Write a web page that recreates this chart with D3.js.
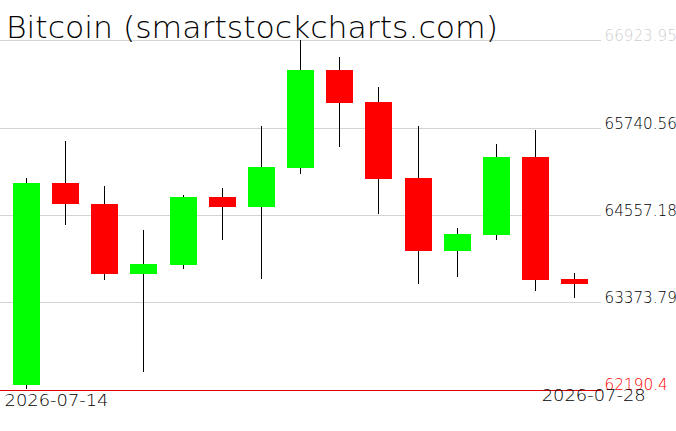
<!DOCTYPE html>
<html>
<head>
<meta charset="utf-8">
<script src="https://cdn.jsdelivr.net/npm/d3@7"></script>
<style>
  html, body { margin: 0; padding: 0; background: #fff; }
  svg { display: block; }
</style>
</head>
<body>
<svg id="chart" width="676" height="431"></svg>
<script>
const title = "Bitcoin (smartstockcharts.com)";
const dates = ["2026-07-14","2026-07-15","2026-07-16","2026-07-17","2026-07-18","2026-07-19","2026-07-20","2026-07-21","2026-07-22","2026-07-23","2026-07-24","2026-07-25","2026-07-26","2026-07-27","2026-07-28"];
const open  = [62258, 64990, 64706, 63759, 63881, 64801, 64665, 65193, 66518, 66085, 65058, 64070, 64287, 65342, 63692];
const high  = [65058, 65558, 64949, 64354, 64828, 64922, 65761, 66924, 66694, 66288, 65761, 64381, 65517, 65707, 63773];
const low   = [62204, 64422, 63678, 62434, 63827, 64219, 63692, 65112, 65477, 64571, 63624, 63719, 64219, 63529, 63435];
const close = [64990, 64706, 63759, 63894, 64801, 64665, 65206, 66518, 66072, 65044, 64070, 64300, 65342, 63678, 63624];
const yTickValues = [66923.95, 65740.56, 64557.18, 63373.79, 62190.4];
const yTickLabels = ["66923.95", "65740.56", "64557.18", "63373.79", "62190.4"];
const xTickLabels = ["2026-07-14", "2026-07-28"];

const svg = d3.select("#chart");

const x = d3.scalePoint().domain(dates).range([26.5, 574.7]);
const y = d3.scaleLinear().domain([62190.4, 66923.95]).range([390, 40]);
const bodyW = 27;

// gridlines
const grid = svg.append("g").attr("shape-rendering", "crispEdges");
yTickValues.forEach((v, i) => {
  const yy = Math.round(y(v)) + 0.5;
  grid.append("line")
    .attr("x1", 0).attr("x2", 601)
    .attr("y1", yy).attr("y2", yy)
    .attr("stroke", i === yTickValues.length - 1 ? "#e00000" : "#d3d3d3")
    .attr("stroke-width", 1);
});

// title
svg.append("text")
  .attr("x", 6).attr("y", 38)
  .attr("font-family", "DejaVu Sans")
  .attr("font-weight", 200)
  .attr("font-size", 30)
  .attr("textLength", 492)
  .attr("lengthAdjust", "spacingAndGlyphs")
  .attr("fill", "#000")
  .text(title);

// candles
const data = dates.map((d, i) => ({d, o: open[i], h: high[i], l: low[i], c: close[i]}));
const cg = svg.append("g").attr("shape-rendering", "crispEdges");
const candle = cg.selectAll("g.c").data(data).join("g").attr("class", "c");
candle.append("line")
  .attr("x1", d => Math.floor(x(d.d)) + 0.5)
  .attr("x2", d => Math.floor(x(d.d)) + 0.5)
  .attr("y1", d => Math.round(y(d.h)))
  .attr("y2", d => Math.round(y(d.l)))
  .attr("stroke", "#000")
  .attr("stroke-width", 1);
candle.append("rect")
  .attr("x", d => Math.round(x(d.d) - bodyW / 2))
  .attr("width", bodyW)
  .attr("y", d => Math.round(y(Math.max(d.o, d.c))))
  .attr("height", d => Math.max(1, Math.round(y(Math.min(d.o, d.c))) - Math.round(y(Math.max(d.o, d.c)))))
  .attr("fill", d => d.c >= d.o ? "#00ff00" : "#ff0000");

// y labels
yTickValues.forEach((v, i) => {
  const last = i === yTickValues.length - 1;
  svg.append("text")
    .attr("x", 604.5)
    .attr("y", y(v) + (last ? 0 : 1))
    .attr("font-family", "DejaVu Sans")
    .attr("font-weight", 200)
    .attr("font-size", 15)
    .attr("textLength", yTickLabels[i].length * 9.05)
    .attr("lengthAdjust", "spacingAndGlyphs")
    .attr("fill", i === 0 ? "#cfcfcf" : (last ? "#ff0000" : "#000"))
    .text(yTickLabels[i]);
});

// x labels
svg.append("text")
  .attr("x", x(xTickLabels[0]) - 22)
  .attr("y", 406)
  .attr("font-family", "DejaVu Sans")
  .attr("font-weight", 200)
  .attr("font-size", 15)
  .attr("textLength", 104)
  .attr("lengthAdjust", "spacingAndGlyphs")
  .attr("fill", "#000")
  .text(xTickLabels[0]);
svg.append("text")
  .attr("x", x(xTickLabels[1]) - 33)
  .attr("y", 401)
  .attr("font-family", "DejaVu Sans")
  .attr("font-weight", 200)
  .attr("font-size", 15)
  .attr("textLength", 104)
  .attr("lengthAdjust", "spacingAndGlyphs")
  .attr("fill", "#000")
  .text(xTickLabels[1]);
</script>
</body>
</html>
